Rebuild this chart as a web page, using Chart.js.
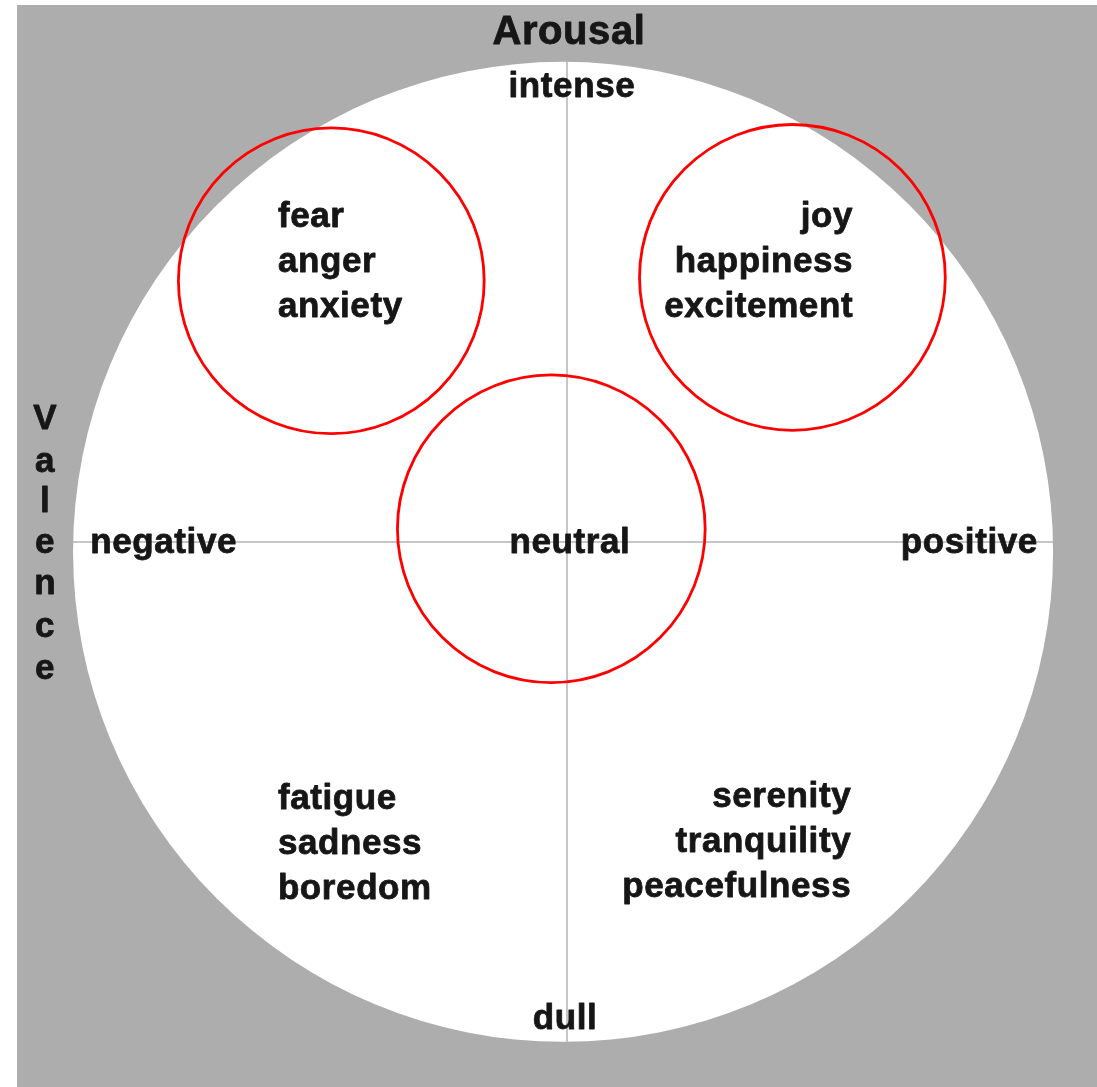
<!DOCTYPE html>
<html>
<head>
<meta charset="utf-8">
<script src="https://cdn.jsdelivr.net/npm/chart.js@4/dist/chart.umd.min.js"></script>
<style>
  body { margin: 0; background: #ffffff; }
  #wrap { position: absolute; left: 17px; top: 5px; width: 1080px; height: 1082px; background: #adadad; }
</style>
</head>
<body>
<div id="wrap"><canvas id="circumplex" width="1080" height="1082"></canvas></div>
<script>
// Valence (x) / arousal (y) plane, origin where the two axes cross

// the white disk of the plane
var diskX = [-0.008];
var diskY = [-0.020];
var diskR = [1.0];

// red emotion circles: fear, joy, neutral
var circleX = [-0.481, 0.460, -0.032];
var circleY = [0.533, 0.540, 0.027];
var circleR = [0.312, 0.312, 0.314];

// axis lines
var axisV = [{x: 0, y: 0.980}, {x: 0, y: -1.020}];
var axisH = [{x: -1.008, y: 0}, {x: 0.992, y: 0}];

// word groups
var groupWords = [
  ["fear", "anger", "anxiety"],
  ["joy", "happiness", "excitement"],
  ["fatigue", "sadness", "boredom"],
  ["serenity", "tranquility", "peacefulness"]
];
var groupX = [-0.590, 0.584, -0.590, 0.580];
var groupY = [[0.662, 0.571, 0.479], [0.662, 0.571, 0.479],
              [-0.525, -0.617, -0.709], [-0.521, -0.613, -0.705]];
var groupAlign = ["left", "right", "left", "right"];

// pole labels
var poleText = ["intense", "dull", "negative", "positive", "neutral"];
var poleX = [0.010, -0.004, -0.973, 0.961, 0.006];
var poleY = [0.927, -0.975, -0.002, -0.002, -0.002];
var poleAlign = ["center", "center", "left", "right", "center"];

// axis titles
var arousalTitle = {text: "Arousal", x: 0.004, y: 1.038};
var valenceTitle = "Valence";
var valenceX = -1.065;
var valenceY = [0.250, 0.162, 0.081, -0.003, -0.087, -0.174, -0.260];

function toPoints(xs, ys) {
  return xs.map(function (x, i) { return {x: x, y: ys[i]}; });
}

function radiusPx(list) {
  return function (ctx) {
    var s = ctx.chart.scales.x;
    return Math.abs(s.getPixelForValue(list[ctx.dataIndex]) - s.getPixelForValue(0));
  };
}

function word(c, t, x, y) {
  c.strokeText(t, x, y);
  c.fillText(t, x, y);
}

var textPlugin = {
  id: 'words',
  afterDatasetsDraw: function (chart) {
    var c = chart.ctx, sx = chart.scales.x, sy = chart.scales.y;
    c.save();
    c.fillStyle = '#161616';
    c.strokeStyle = '#161616';
    c.lineWidth = 0.8;
    c.lineJoin = 'round';
    c.textBaseline = 'middle';
    c.letterSpacing = '0.6px';

    c.font = 'bold 35px "Liberation Sans", Arial, sans-serif';
    groupWords.forEach(function (words, g) {
      c.textAlign = groupAlign[g];
      words.forEach(function (w, k) {
        word(c, w, sx.getPixelForValue(groupX[g]), sy.getPixelForValue(groupY[g][k]));
      });
    });

    poleText.forEach(function (t, i) {
      c.textAlign = poleAlign[i];
      word(c, t, sx.getPixelForValue(poleX[i]), sy.getPixelForValue(poleY[i]));
    });

    c.textAlign = 'center';
    valenceTitle.split('').forEach(function (ch, i) {
      word(c, ch, sx.getPixelForValue(valenceX), sy.getPixelForValue(valenceY[i]));
    });

    c.font = 'bold 40px "Liberation Sans", Arial, sans-serif';
    word(c, arousalTitle.text, sx.getPixelForValue(arousalTitle.x), sy.getPixelForValue(arousalTitle.y));
    c.restore();
  }
};

var ctx = document.getElementById('circumplex').getContext('2d');

var chart = new Chart(ctx, {
  type: 'scatter',
  data: {
    datasets: [
      {
        data: toPoints(circleX, circleY),
        pointRadius: radiusPx(circleR),
        pointBorderColor: '#ff0000',
        pointBackgroundColor: 'rgba(0,0,0,0)',
        pointBorderWidth: 2.8
      },
      {
        type: 'line',
        data: axisV,
        borderColor: '#b3b3b3',
        borderWidth: 1.5,
        pointRadius: 0
      },
      {
        type: 'line',
        data: axisH,
        borderColor: '#b3b3b3',
        borderWidth: 1.5,
        pointRadius: 0
      },
      {
        data: toPoints(diskX, diskY),
        pointRadius: radiusPx(diskR),
        pointBackgroundColor: '#ffffff',
        pointBorderWidth: 0,
        pointBorderColor: '#ffffff'
      }
    ]
  },
  options: {
    responsive: false,
    animation: false,
    events: [],
    clip: false,
    layout: { padding: 0 },
    plugins: {
      legend: { display: false },
      tooltip: { enabled: false },
      title: { display: false }
    },
    scales: {
      x: { type: 'linear', min: -1.1224, max: 1.0816, display: false },
      y: { type: 'linear', min: -1.1122, max: 1.0959, display: false }
    }
  },
  plugins: [textPlugin]
});
</script>
</body>
</html>
